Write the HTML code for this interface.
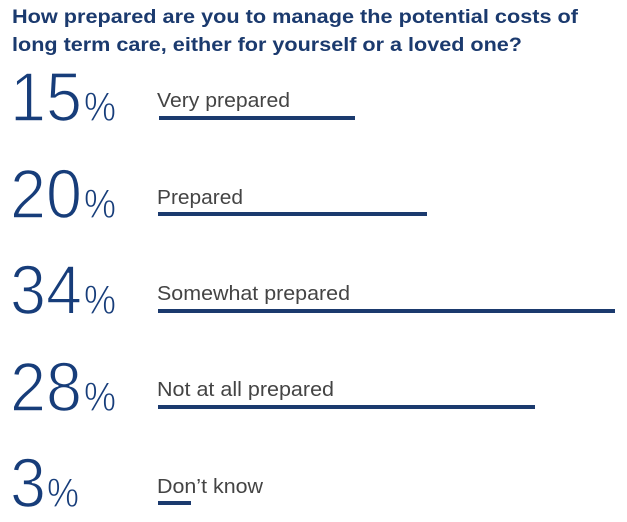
<!DOCTYPE html>
<html><head><meta charset="utf-8"><style>
html,body{margin:0;padding:0;background:#fff;}
svg{display:block;}
.t{font-family:"Liberation Sans",sans-serif;font-weight:bold;font-size:19.5px;fill:#1b3a6e;}
.n{font-family:"Liberation Sans",sans-serif;font-size:70px;fill:#173d7a;stroke:#fff;stroke-width:1.6px;}
.p{font-family:"Liberation Sans",sans-serif;font-size:41px;fill:#173d7a;stroke:#fff;stroke-width:0.8px;}
.l{font-family:"Liberation Sans",sans-serif;font-size:20px;fill:#444;}
</style></head><body>
<svg width="627" height="522" viewBox="0 0 627 522">
<text class="t" x="12" y="23" textLength="566" lengthAdjust="spacingAndGlyphs">How prepared are you to manage the potential costs of</text>
<text class="t" x="12" y="51" textLength="510" lengthAdjust="spacingAndGlyphs">long term care, either for yourself or a loved one?</text>

<g>
<text class="n" x="10" y="121" textLength="72" lengthAdjust="spacingAndGlyphs">15</text>
<text class="p" x="84" y="121" textLength="32" lengthAdjust="spacingAndGlyphs">%</text>
<text class="l" x="157" y="107" textLength="133" lengthAdjust="spacingAndGlyphs">Very prepared</text>
<rect x="159" y="116" width="196" height="4" fill="#1b3a6e"/>
</g>
<g>
<text class="n" x="10" y="218" textLength="72" lengthAdjust="spacingAndGlyphs">20</text>
<text class="p" x="84" y="218" textLength="32" lengthAdjust="spacingAndGlyphs">%</text>
<text class="l" x="157" y="204" textLength="86" lengthAdjust="spacingAndGlyphs">Prepared</text>
<rect x="158" y="212" width="269" height="4" fill="#1b3a6e"/>
</g>
<g>
<text class="n" x="10" y="314" textLength="72" lengthAdjust="spacingAndGlyphs">34</text>
<text class="p" x="84" y="314" textLength="32" lengthAdjust="spacingAndGlyphs">%</text>
<text class="l" x="157" y="300" textLength="193" lengthAdjust="spacingAndGlyphs">Somewhat prepared</text>
<rect x="158" y="309" width="457" height="4" fill="#1b3a6e"/>
</g>
<g>
<text class="n" x="10" y="411" textLength="72" lengthAdjust="spacingAndGlyphs">28</text>
<text class="p" x="84" y="411" textLength="32" lengthAdjust="spacingAndGlyphs">%</text>
<text class="l" x="157" y="396" textLength="177" lengthAdjust="spacingAndGlyphs">Not at all prepared</text>
<rect x="158" y="405" width="377" height="4" fill="#1b3a6e"/>
</g>
<g>
<text class="n" x="10" y="507" textLength="36" lengthAdjust="spacingAndGlyphs">3</text>
<text class="p" x="47" y="507" textLength="32" lengthAdjust="spacingAndGlyphs">%</text>
<text class="l" x="157" y="493" textLength="106" lengthAdjust="spacingAndGlyphs">Don’t know</text>
<rect x="158" y="501" width="33" height="4" fill="#1b3a6e"/>
</g>
</svg>
</body></html>
